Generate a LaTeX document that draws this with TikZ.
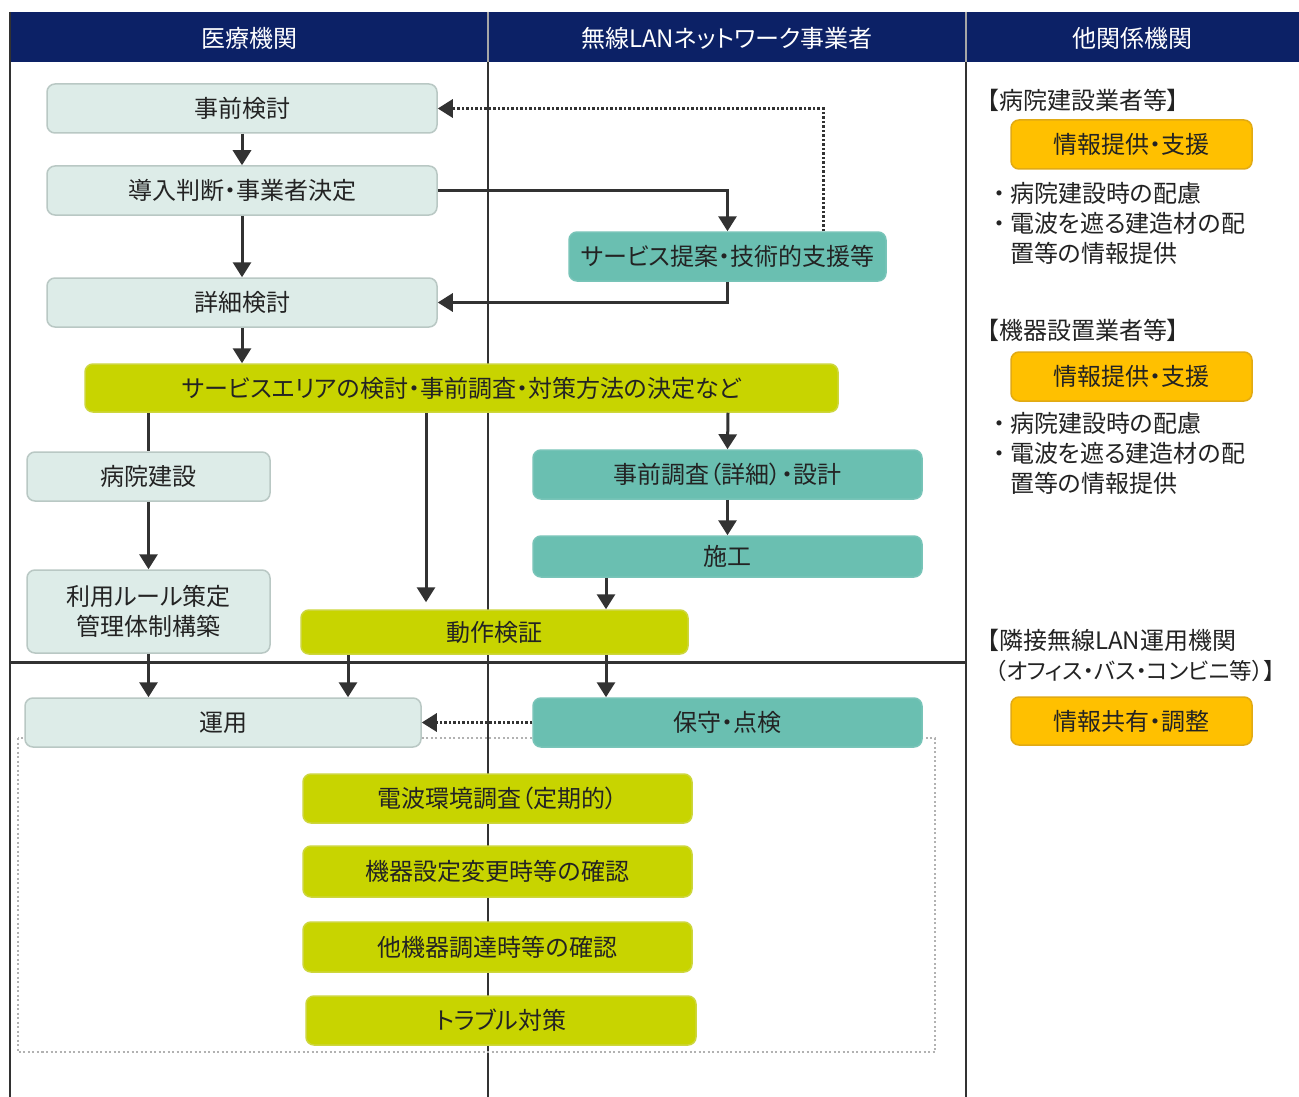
\documentclass[tikz,border=0pt]{standalone}
\usepackage{fontspec}
\setmainfont{Noto Sans CJK JP}[RawFeature={+palt}]
\usetikzlibrary{arrows.meta}
\definecolor{navy}{RGB}{12,33,102}
\definecolor{lightbox}{RGB}{221,236,232}
\definecolor{lightedge}{RGB}{185,200,196}
\definecolor{teal}{RGB}{106,191,177}
\definecolor{tealedge}{RGB}{120,196,184}
\definecolor{lime}{RGB}{200,212,0}
\definecolor{limeedge}{RGB}{205,214,60}
\definecolor{amber}{RGB}{255,192,0}
\definecolor{amberedge}{RGB}{225,170,20}
\definecolor{ink}{RGB}{35,35,35}
\definecolor{linec}{RGB}{50,50,50}
\tikzset{
  txt/.style={font=\fontsize{24}{30}\selectfont, text=ink, inner sep=0pt},
  boxbase/.style={txt, rounded corners=8pt, line width=1.5pt, align=center},
  lbox/.style={boxbase, fill=lightbox, draw=lightedge},
  tbox/.style={boxbase, fill=teal, draw=tealedge},
  gbox/.style={boxbase, fill=lime, draw=limeedge},
  obox/.style={boxbase, fill=amber, draw=amberedge},
  hdr/.style={font=\fontsize{24}{30}\selectfont, text=white, inner sep=0pt},
  arr/.style={draw=linec, line width=3pt, -{Triangle[length=15pt,width=18pt]}},
  plainline/.style={draw=linec, line width=3pt},
  dotarr/.style={draw=linec, line width=3pt, dash pattern=on 2.5pt off 2pt, -{Triangle[length=15pt,width=18pt]}},
  frame/.style={draw=linec, line width=2pt},
}
\begin{document}
\begin{tikzpicture}[x=1pt,y=-1pt]
\useasboundingbox[fill=white] (0,0) rectangle (1299,1097);
% header
\fill[navy] (10,12) rectangle (1299,62);
\draw[frame] (10,12) -- (10,1097);
\draw[frame] (488,62) -- (488,1097);
\draw[frame] (966,62) -- (966,1097);
\draw[gray!70, line width=1.5pt] (488,12) -- (488,62);
\draw[gray!70, line width=1.5pt] (966,12) -- (966,62);
\draw[linec, line width=3pt] (10,662) -- (966,662);
\node[hdr] (hA) at (249,38) {医療機関};
\node[hdr] (hB) at (727,38) {無線LANネットワーク事業者};
\node[hdr] (hC) at (1132,38) {他関係機関};
% dotted group frame
\draw[gray!60, line width=1.8pt, dash pattern=on 2pt off 2.5pt] (18,738) rectangle (935,1052);
% nodes
\node[lbox, minimum width=390pt, minimum height=49pt] (s1) at (242,108.5) {事前検討};
\node[lbox, minimum width=390pt, minimum height=49pt] (s2) at (242,190.5) {導入判断・事業者決定};
\node[lbox, minimum width=390pt, minimum height=49pt] (s3) at (242,302.5) {詳細検討};
\node[tbox, minimum width=317pt, minimum height=49pt] (sv) at (727.5,256.5) {サービス提案・技術的支援等};
\node[gbox, minimum width=753pt, minimum height=48pt] (sa) at (461.5,388) {サービスエリアの検討・事前調査・対策方法の決定など};
\node[lbox, minimum width=243pt, minimum height=49pt] (hb) at (148.5,476.5) {病院建設};
\node[lbox, minimum width=243pt, minimum height=83pt] (ru) at (148.5,611.5) {利用ルール策定\\管理体制構築};
\node[tbox, minimum width=389pt, minimum height=49pt] (ps) at (727.5,474.5) {事前調査（詳細）・設計};
\node[tbox, minimum width=389pt, minimum height=41pt] (sk) at (727.5,556.5) {施工};
\node[gbox, minimum width=387pt, minimum height=44pt] (dv) at (494.5,632) {動作検証};
\node[lbox, minimum width=396pt, minimum height=49pt] (un) at (223,722.5) {運用};
\node[tbox, minimum width=389pt, minimum height=49pt] (hs) at (727.5,722.5) {保守・点検};
\node[gbox, minimum width=389pt, minimum height=49pt] (r1) at (497.5,798.5) {電波環境調査（定期的）};
\node[gbox, minimum width=389pt, minimum height=51pt] (r2) at (497.5,871.5) {機器設定変更時等の確認};
\node[gbox, minimum width=389pt, minimum height=50pt] (r3) at (497.5,947) {他機器調達時等の確認};
\node[gbox, minimum width=390pt, minimum height=49pt] (r4) at (501,1020.5) {トラブル対策};
% right column
\node[txt, anchor=west] (t1) at (987,100) {【病院建設業者等】};
\node[obox, minimum width=241pt, minimum height=49pt] (o1) at (1131.5,144.5) {情報提供・支援};
\node[txt, anchor=west, align=left] (b1) at (988,223.5) {\makebox[22pt][c]{・}病院建設時の配慮\\\makebox[22pt][c]{・}電波を遮る建造材の配\\\hspace*{22pt}置等の情報提供};
\node[txt, anchor=west] (t2) at (987,330) {【機器設置業者等】};
\node[obox, minimum width=241pt, minimum height=49pt] (o2) at (1131.5,376.5) {情報提供・支援};
\node[txt, anchor=west, align=left] (b2) at (988,453.5) {\makebox[22pt][c]{・}病院建設時の配慮\\\makebox[22pt][c]{・}電波を遮る建造材の配\\\hspace*{22pt}置等の情報提供};
\node[txt, anchor=west, align=left] (t3) at (987,655) {【隣接無線LAN運用機関\\\hspace*{8pt}{\fontsize{22.5}{30}\selectfont（オフィス・バス・コンビニ等）】}};
\node[obox, minimum width=241pt, minimum height=48pt] (o3) at (1131.5,721) {情報共有・調整};
% column coordinates
\coordinate (c148) at (148,0);
\coordinate (c348) at (348,0);
\coordinate (c426) at (426,0);
\coordinate (c606) at (606,0);
\coordinate (c728) at (728,0);
\coordinate (c823) at (823,0);
% connectors
\draw[arr] (s1.south) -- (s2.north);
\draw[arr] (s2.south) -- (s3.north);
\draw[arr] (s2.east) -| (sv.north);
\draw[arr] (sv.south) |- (s3.east);
\draw[dotarr] (sv.north -| c823) |- (s1.east);
\draw[arr] (s3.south) -- (s3.south |- sa.north);
\draw[plainline] (sa.south -| c148) -- (hb.north -| c148);
\draw[arr] (hb.south) -- (ru.north);
\draw[arr, shorten >=7pt] (sa.south -| c426) -- (dv.north -| c426);
\draw[arr] (sa.south -| c728) -- (ps.north);
\draw[arr] (ps.south) -- (sk.north);
\draw[arr] (sk.south -| c606) -- (dv.north -| c606);
\draw[arr] (ru.south) -- (ru.south |- un.north);
\draw[arr] (dv.south -| c348) -- (un.north -| c348);
\draw[arr] (dv.south -| c606) -- (hs.north -| c606);
\draw[dotarr] (hs.west) -- (un.east);
\end{tikzpicture}
\end{document}
